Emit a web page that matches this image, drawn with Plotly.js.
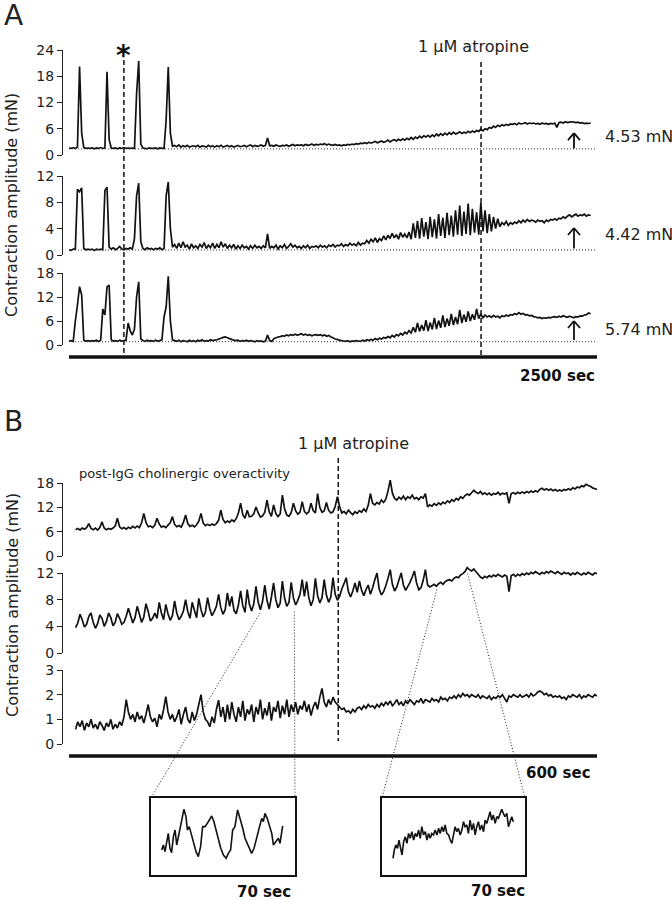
<!DOCTYPE html>
<html><head><meta charset="utf-8">
<script src="https://cdn.plot.ly/plotly-3.0.1.min.js"></script>
<style>html,body{margin:0;padding:0;background:#fff}#plot{width:672px;height:900px}</style>
</head><body><div id="plot"></div>
<script>
// ---------------- DATA ----------------
// Panel A: sampled every 10 s starting at 0 s (time axis 0-2500 s)
const A_t0 = 0, A_dt = 10;
const A1 = [1.6,1.5,1.7,1.5,1.8,20.2,5.0,1.7,1.5,1.6,
1.5,1.6,1.4,1.6,1.5,1.7,1.5,1.6,19.0,3.5,
1.6,1.5,1.6,1.4,1.6,1.5,1.7,1.5,1.6,1.5,
1.6,1.5,14.0,21.5,2.5,1.6,1.5,1.4,1.6,1.5,
1.5,1.6,1.4,1.6,1.5,1.5,8.0,20.1,5.0,2.0,
2.2,1.9,2.3,1.8,2.1,1.9,2.2,1.8,2.0,2.1,
1.9,2.2,1.8,2.1,2.0,1.8,2.2,1.9,2.1,1.8,
2.1,1.9,2.2,1.8,2.0,2.2,1.9,2.1,1.8,2.0,
2.2,1.9,2.0,2.2,1.9,2.1,2.3,1.9,2.2,2.0,
2.1,2.3,2.0,2.2,3.9,2.1,2.2,2.0,2.3,2.1,
2.0,2.2,2.1,2.3,2.0,2.2,2.4,2.1,2.3,2.2,
2.3,2.1,2.4,2.2,2.3,2.5,2.2,2.4,2.3,2.5,
2.4,2.6,2.3,2.5,2.3,2.2,2.4,2.2,2.3,2.1,
2.3,2.2,2.4,2.3,2.5,2.4,2.6,2.5,2.7,2.6,
2.8,2.6,2.9,2.7,2.9,3.1,2.8,3.0,3.2,2.9,
3.1,3.4,3.0,3.3,3.5,3.2,3.6,3.3,3.7,3.4,
3.8,3.5,4.0,3.6,4.1,3.8,4.3,3.9,4.4,4.1,
4.5,4.1,4.6,4.2,4.8,4.4,4.9,4.5,5.0,4.6,
5.1,4.7,5.2,4.8,5.0,5.3,4.9,5.2,5.0,5.4,
5.1,5.5,5.2,5.6,5.4,5.9,5.5,6.0,5.8,6.3,
6.1,6.6,6.3,6.8,6.5,6.9,6.7,7.0,6.8,7.1,
7.0,7.2,6.9,7.3,7.1,7.2,7.4,7.1,7.3,7.2,
7.3,7.1,7.2,7.0,7.3,7.1,7.2,7.0,7.2,7.1,
7.3,6.3,7.4,7.5,7.3,7.6,7.4,7.5,7.6,7.5,
7.4,7.5,7.3,7.4,7.2,7.3,7.2,7.3];
const A2 = [0.8,0.7,0.9,0.9,10.0,9.6,10.2,1.0,0.8,0.9,
0.8,0.9,0.7,0.9,0.8,0.9,0.8,9.8,10.3,1.2,
0.9,1.1,0.8,1.0,1.3,0.9,0.8,1.0,0.9,1.1,
0.9,2.5,9.0,10.9,2.0,1.0,0.8,1.1,0.9,1.0,
0.8,1.0,0.9,1.1,0.8,1.0,9.0,11.1,4.0,1.2,
1.6,1.0,1.8,1.1,2.0,1.2,1.5,0.9,1.7,1.1,
1.4,1.0,1.6,1.2,1.9,1.0,1.5,1.1,1.8,1.0,
1.6,1.1,2.0,1.2,1.7,1.0,1.5,1.1,1.6,0.9,
1.4,1.0,1.5,1.1,1.3,0.9,1.4,1.0,1.5,1.1,
1.3,1.0,1.4,1.1,3.2,1.0,1.3,1.1,1.5,0.9,
1.4,1.1,1.6,1.0,1.3,1.7,1.2,1.5,1.1,1.3,
1.0,1.4,1.1,1.5,1.0,1.3,1.2,1.4,1.1,1.5,
1.2,1.4,1.1,1.5,1.3,1.6,1.2,1.5,1.4,1.7,
1.3,1.6,1.4,1.8,1.5,1.7,1.4,1.9,1.5,1.8,
1.7,2.2,1.8,2.4,2.0,2.6,1.9,2.5,2.2,2.9,
2.3,3.0,2.5,3.3,2.6,3.1,2.4,3.4,2.7,3.2,
2.6,3.5,2.4,4.8,2.6,5.2,2.5,5.6,2.8,5.0,
2.4,5.8,2.7,5.4,2.5,6.2,2.9,5.7,2.6,6.4,
3.0,6.0,2.8,6.8,3.1,7.5,2.9,6.6,3.2,7.8,
3.0,7.0,3.4,6.5,3.1,7.9,3.6,6.8,3.3,6.2,
3.6,5.8,4.0,5.5,4.3,4.9,4.6,5.1,4.5,4.9,
4.7,5.0,4.8,5.2,4.9,5.3,5.0,5.4,5.1,5.3,
5.2,5.0,5.3,5.1,5.2,4.9,5.3,5.1,5.4,5.3,
5.5,5.3,5.6,5.5,5.8,5.6,5.9,6.1,5.8,6.0,
6.2,5.9,6.1,6.0,6.2,5.9,6.1,6.0];
const A3 = [1.0,1.1,0.9,6.0,10.0,14.6,12.5,1.2,1.0,1.1,
0.9,1.1,1.0,1.2,0.9,1.2,9.0,7.5,14.5,15.0,
1.3,1.0,1.1,0.9,1.2,1.0,1.1,1.2,5.5,3.5,
2.5,4.0,12.0,15.8,1.5,1.1,0.9,1.2,1.0,1.1,
0.9,1.2,1.0,1.1,1.3,7.0,9.5,17.2,6.0,1.3,
1.1,0.9,1.2,0.8,1.1,1.0,0.8,1.2,0.9,1.1,
0.8,1.2,1.0,1.3,0.9,1.1,1.0,1.3,1.1,1.2,
1.3,1.5,1.7,1.9,2.0,1.8,1.6,1.4,1.2,1.1,
1.2,0.9,1.1,1.0,1.2,0.9,1.1,1.0,0.8,1.1,
0.9,1.0,0.8,1.0,2.5,1.1,0.9,1.6,1.8,2.0,
2.1,2.3,2.2,2.5,2.3,2.6,2.4,2.7,2.5,2.6,
2.8,2.5,2.7,2.4,2.6,2.3,2.5,2.6,2.4,2.6,
2.3,2.5,2.2,2.4,2.0,1.8,1.5,1.4,1.2,1.1,
1.0,0.9,1.1,0.8,1.0,0.9,1.1,1.0,0.9,1.2,
1.0,1.3,1.1,1.4,1.2,1.6,1.3,1.7,1.5,1.9,
1.7,2.1,1.8,2.4,2.0,2.6,2.3,2.9,2.5,3.2,
2.8,3.6,3.0,4.4,3.2,5.5,3.4,5.0,3.6,6.2,
3.5,5.6,3.9,6.8,4.0,6.1,4.3,7.4,4.5,6.6,
4.8,7.8,5.0,7.0,5.2,8.8,5.5,7.6,5.8,8.4,
6.0,7.7,6.3,9.0,6.6,7.8,6.8,7.5,7.0,7.3,
6.9,7.4,7.0,7.2,6.8,7.3,7.1,7.5,7.2,7.6,
7.5,7.8,7.6,8.1,7.7,7.9,7.5,7.6,7.3,7.4,
7.1,7.0,6.8,6.9,6.6,6.8,6.7,6.9,6.8,7.0,
7.1,6.9,7.2,7.0,7.3,7.1,6.9,7.2,7.0,6.8,
7.1,7.0,7.3,7.2,7.5,7.6,8.0,7.8];

// Panel B: sampled every 2.5 s starting at 7.5 s (time axis 0-600 s)
const B_t0 = 7.5, B_dt = 2.5;
const B1 = [6.5,6.8,6.4,6.9,6.6,7.0,8.0,6.8,6.5,6.9,6.4,7.0,8.4,6.9,6.5,6.8,6.6,6.9,7.4,9.3,
7.2,6.7,7.0,6.6,7.1,6.8,7.3,6.9,7.4,7.0,8.2,10.5,8.3,7.2,7.4,7.0,7.6,9.3,7.9,7.1,
7.4,7.0,7.6,8.2,9.7,7.8,7.2,7.5,7.1,8.3,10.1,8.0,7.3,7.6,7.2,7.7,8.6,10.5,8.1,7.5,
7.8,7.5,7.9,7.6,8.0,8.8,11.3,9.0,8.2,8.6,8.3,8.9,8.5,9.2,10.6,13.0,10.2,9.3,11.3,9.7,
9.8,10.4,12.1,10.6,9.6,9.9,10.8,13.8,10.9,9.8,12.6,10.5,9.7,10.4,15.0,11.6,10.1,9.8,10.7,13.0,
11.2,10.3,10.8,13.4,11.0,10.4,10.9,13.0,11.2,10.6,15.4,12.0,10.8,11.1,13.2,11.3,10.6,10.9,12.2,14.6,
12.2,10.6,11.0,10.4,11.3,10.7,10.2,10.9,10.5,11.2,10.8,11.6,11.0,12.5,15.4,13.0,12.6,13.2,12.8,13.8,
13.2,14.0,16.0,18.7,15.5,14.2,13.8,14.5,14.0,14.8,13.9,14.6,14.2,15.0,14.1,14.4,13.9,14.6,14.3,15.4,
12.1,12.6,12.3,12.9,12.5,13.1,12.7,13.3,12.9,13.6,13.2,13.9,13.5,14.2,13.8,14.6,14.2,14.9,15.3,15.0,
15.6,16.2,15.7,15.4,15.9,15.2,15.6,15.1,15.5,15.0,15.4,15.2,15.7,15.1,15.5,15.3,15.6,13.0,15.4,15.6,
15.3,15.7,15.4,15.8,15.5,15.9,15.6,16.0,15.7,16.1,15.8,16.4,16.7,16.3,16.6,16.2,16.5,16.1,16.4,16.0,
16.3,16.0,16.4,16.2,16.6,16.3,16.8,16.5,17.0,16.8,17.3,17.1,17.7,17.4,17.2,16.8,16.6,16.4];
const B2 = [3.8,4.5,5.8,5.0,3.9,4.3,5.5,6.0,4.6,3.7,4.4,5.7,5.2,4.0,4.7,6.0,5.3,4.1,4.6,5.9,
5.2,4.3,4.6,5.5,6.7,5.6,4.5,5.3,7.0,5.8,4.6,5.4,7.4,6.2,4.8,5.2,6.0,5.2,7.6,6.0,
5.0,7.3,5.9,4.9,5.6,7.8,6.0,5.0,5.5,6.3,8.0,6.2,5.2,7.6,6.4,5.3,8.2,6.5,5.4,6.1,
8.3,6.6,5.6,6.2,7.0,8.8,6.8,5.8,6.5,9.0,7.0,8.5,6.4,5.9,7.2,9.3,7.1,6.1,9.5,7.3,
6.3,7.4,10.0,7.6,6.5,7.8,10.2,7.9,6.6,8.4,10.5,8.0,6.8,7.5,10.8,8.2,7.0,7.6,10.6,8.3,
7.2,7.9,8.8,11.0,8.5,10.7,8.3,7.1,8.0,11.2,8.6,7.5,8.3,11.0,8.7,7.6,8.4,11.3,8.8,7.9,
8.5,9.6,10.4,11.3,9.2,8.4,9.3,10.5,9.1,10.8,9.4,8.6,9.5,10.2,8.8,9.8,11.0,12.0,9.6,8.7,
9.2,10.1,11.2,12.5,10.3,9.3,9.9,11.0,12.0,10.2,9.4,10.0,10.6,11.4,12.3,10.5,9.5,9.8,10.9,12.5,
10.2,9.9,10.1,10.3,10.0,10.4,10.6,10.3,10.7,10.9,11.0,10.8,11.2,11.4,11.3,11.7,11.9,12.2,12.8,12.5,
12.3,12.6,12.2,11.8,11.4,11.2,11.5,11.3,11.6,11.4,11.7,11.5,11.8,11.6,11.4,11.7,11.5,9.2,11.6,11.8,
11.5,11.8,11.6,11.9,11.7,12.0,11.8,12.1,11.9,12.2,12.0,11.8,12.1,11.9,12.2,12.0,12.3,12.1,11.9,12.2,
12.0,11.8,12.1,11.9,12.0,11.7,12.0,11.8,12.1,11.9,11.7,12.0,11.8,12.1,11.9,11.7,12.0,11.9];
const B3 = [0.6,0.9,0.7,0.95,0.55,0.85,0.7,1.0,0.65,0.8,0.6,0.9,0.75,0.55,0.85,0.7,1.0,0.6,0.8,0.65,
0.9,0.75,1.1,1.8,1.3,1.0,1.2,0.9,1.3,1.0,1.15,0.85,1.2,1.6,1.1,0.9,1.05,0.7,1.2,1.0,
1.4,1.92,1.3,1.0,1.2,0.9,1.1,1.4,0.8,1.2,1.5,1.0,0.85,1.3,0.95,1.2,1.6,2.0,1.3,1.0,
0.9,0.7,1.1,0.85,1.4,1.78,1.1,1.5,0.9,1.6,1.0,1.7,1.2,0.9,1.5,1.1,1.75,0.95,1.4,1.2,
1.6,0.9,1.5,1.2,1.8,1.0,1.45,1.15,1.7,0.95,1.5,1.3,1.75,1.05,1.55,1.2,1.8,1.1,1.6,1.3,
1.7,1.2,1.55,1.4,1.75,1.3,1.6,1.15,1.5,1.7,1.4,1.9,2.25,1.7,1.5,1.8,1.6,1.9,1.7,1.6,
1.5,1.4,1.45,1.3,1.35,1.25,1.4,1.3,1.45,1.5,1.4,1.55,1.45,1.6,1.5,1.55,1.45,1.6,1.5,1.65,
1.55,1.7,1.6,1.75,1.55,1.65,1.8,1.6,1.7,1.55,1.75,1.65,1.8,1.7,1.6,1.75,1.7,1.85,1.65,1.8,
1.75,1.7,1.85,1.75,1.8,1.7,1.9,1.8,1.85,1.75,1.9,1.85,1.95,1.85,2.0,1.9,2.05,1.95,2.0,1.9,
2.0,1.95,1.9,2.0,1.85,1.95,1.9,1.85,1.95,1.8,1.9,1.85,1.95,1.9,2.0,1.85,1.7,1.95,1.9,2.0,
1.95,1.9,2.0,1.9,1.95,2.0,1.9,2.05,1.95,2.0,2.1,2.15,2.1,2.0,2.05,1.95,2.0,1.9,1.95,1.9,
1.95,1.85,1.9,1.8,1.95,1.9,2.0,1.95,1.9,2.0,1.85,1.95,1.9,2.0,1.95,1.9,2.0,1.95];

// Insets (70 s windows of the middle B trace)
const inset1T = [5.2,6.0,6.8,7.6,8.4,9.2,10.0,10.9,11.7,12.5,13.3,14.1,14.9,16.0,17.0,17.7,18.6,19.8,20.9,21.9,23.0,24.1,25.1,26.3,27.4,28.4,29.5,30.6,31.6,32.7,33.9,35.2,36.5,37.6,38.7,39.7,40.8,42.1,43.3,44.6,45.7,46.8,47.8,48.9,50.1,51.4,52.7,53.8,54.6,55.4,56.5,57.8,58.7,59.5,60.8,61.9,62.7,64.0];
const inset1V = [6.92,7.51,6.73,7.90,8.87,7.12,6.61,8.48,9.26,7.51,8.48,9.46,10.62,11.68,10.82,9.26,9.65,8.48,7.51,6.73,6.14,7.31,9.65,9.65,10.04,10.43,10.90,10.23,9.26,8.09,7.12,6.34,5.95,6.53,6.92,9.26,9.65,11.60,10.62,9.46,8.29,7.70,7.12,6.53,7.12,8.48,9.65,10.62,10.23,11.21,10.62,9.46,8.87,7.51,7.90,8.29,7.70,9.73];
const inset2T = [5.4,6.0,6.8,7.6,8.3,8.9,9.8,10.6,11.4,12.2,13.0,13.8,14.6,15.5,16.3,17.1,17.9,18.7,19.5,20.3,21.2,22.0,22.8,23.6,24.4,25.2,26.0,26.9,27.7,28.5,29.3,30.1,30.9,31.7,32.6,33.4,34.2,35.0,35.8,36.6,37.4,38.3,39.1,39.9,40.7,41.5,42.3,43.1,44.0,44.8,45.6,46.4,47.2,48.0,48.8,49.7,50.5,51.3,52.1,52.9,53.7,54.5,55.4,56.2,57.0,57.8,58.6,59.4,60.2,61.1,61.9,62.7,63.5,64.3];
const inset2V = [10.08,10.62,10.95,10.73,11.27,10.88,10.30,11.16,11.49,11.06,11.70,11.38,11.81,11.27,11.70,11.49,11.92,11.38,12.14,11.60,11.81,11.27,11.70,11.38,11.70,11.60,11.92,11.60,12.03,11.70,12.14,11.81,12.25,11.70,11.60,11.27,11.06,11.60,12.14,11.81,12.03,11.60,11.92,12.46,12.14,12.25,11.70,12.57,11.92,12.35,11.60,12.14,12.46,11.92,12.25,11.81,12.57,12.35,12.79,13.11,12.57,12.89,12.35,12.79,12.68,13.00,13.26,13.00,12.79,13.00,12.14,12.46,12.79,12.46];

// Annotated values
const A_baselines = [1.4, 0.76, 0.83];
const A_arrowTail = [1.5, 1.0, 1.25];
const A_arrowHead = [5.0, 4.1, 6.0];
const A_arrowTime = 2391;
const A_amplitudeLabels = ['4.53 mN', '4.42 mN', '5.74 mN'];
const starTime = 260, atropineTimeA = 1951, atropineTimeB = 306;
const inset1Window = [217, 256], inset1Top = [6.0, 6.2];
const inset2Window = [418, 453], inset2Top = [9.5, 11.9];
const tickValsA = [[0,6,12,18,24],[0,4,8,12],[0,6,12,18]];
const tickValsB = [[0,6,12,18],[0,4,8,12],[0,1,2,3]];
const scaleA = 2500, scaleB = 600, insetSpan = 70;

// ---------------- LAYOUT ----------------
const W = 672, H = 900, FONT = 'DejaVu Sans', INK = '#111', TXT = '#222';
const X0 = 69, X1 = 597, AXX = 62;
const rows = [
  {top:50, bot:155, ticks:tickValsA[0], data:A1, t0:A_t0, dt:A_dt, x:'x'},
  {top:176, bot:255, ticks:tickValsA[1], data:A2, t0:A_t0, dt:A_dt, x:'x'},
  {top:273, bot:345, ticks:tickValsA[2], data:A3, t0:A_t0, dt:A_dt, x:'x'},
  {top:483, bot:556, ticks:tickValsB[0], data:B1, t0:B_t0, dt:B_dt, x:'x2'},
  {top:573, bot:653, ticks:tickValsB[1], data:B2, t0:B_t0, dt:B_dt, x:'x2'},
  {top:670, bot:744, ticks:tickValsB[2], data:B3, t0:B_t0, dt:B_dt, x:'x2'}
];
const px2x = p => p / W, px2y = p => 1 - p / H;
const traces = [];
const layout = {
  width: W, height: H, margin: {l:0, r:0, t:0, b:0}, showlegend: false,
  paper_bgcolor: '#fff', plot_bgcolor: 'rgba(0,0,0,0)',
  font: {family: FONT, color: TXT},
  xaxis: {domain:[px2x(X0), px2x(X1)], range:[0, scaleA], visible:false, fixedrange:true},
  xaxis2: {domain:[px2x(X0), px2x(X1)], range:[0, scaleB], visible:false, fixedrange:true},
  shapes: [], annotations: []
};
const EXT = 20;
rows.forEach((r, i) => {
  const n = i + 1, m = i + 7;
  const max = r.ticks[r.ticks.length - 1];
  const ppu = (r.bot - r.top) / max;
  r.ppu = ppu; r.max = max;
  const dKey = n === 1 ? 'yaxis' : 'yaxis' + n;
  layout[dKey] = {domain:[px2y(r.bot + EXT), px2y(r.top - EXT)], range:[-EXT/ppu, max + EXT/ppu],
    visible:false, anchor:r.x, fixedrange:true};
  layout['yaxis' + m] = {domain:[px2y(r.bot), px2y(r.top)], range:[0, max], anchor:'free', position:px2x(AXX),
    showline:true, linecolor:TXT, linewidth:1, ticks:'outside', ticklen:5, tickwidth:1, tickcolor:TXT,
    tickvals:r.ticks, showgrid:false, zeroline:false, tickfont:{family:FONT, size:14, color:TXT}, fixedrange:true};
  const t = r.data.map((_, k) => r.t0 + k * r.dt);
  traces.push({x:t, y:r.data, xaxis:r.x, yaxis:n === 1 ? 'y' : 'y' + n, mode:'lines',
    line:{color:INK, width:1.7, simplify:false}, hoverinfo:'skip'});
  traces.push({x:[], y:[], xaxis:r.x, yaxis:'y' + m, mode:'lines', hoverinfo:'skip'});
});
const rowY = (i, v) => rows[i].bot - v * rows[i].ppu;   // px
const aX = t => X0 + t / scaleA * (X1 - X0);
const bX = t => X0 + t / scaleB * (X1 - X0);

// insets
const IN1 = {l:151, r:295}, IN2 = {l:382, r:525}, INT = 798, INB = 875;
const insetAxis = {showline:true, mirror:true, linecolor:INK, linewidth:1.6, ticks:'', showticklabels:false,
  showgrid:false, zeroline:false, fixedrange:true};
layout.xaxis3 = Object.assign({domain:[px2x(IN1.l), px2x(IN1.r)], range:[0, insetSpan], anchor:'y13'}, insetAxis);
layout.yaxis13 = Object.assign({domain:[px2y(INB), px2y(INT)], range:[4, 13], anchor:'x3'}, insetAxis);
layout.xaxis4 = Object.assign({domain:[px2x(IN2.l), px2x(IN2.r)], range:[0, insetSpan], anchor:'y14'}, insetAxis);
layout.yaxis14 = Object.assign({domain:[px2y(INB), px2y(INT)], range:[9, 14], anchor:'x4'}, insetAxis);
traces.push({x:inset1T, y:inset1V, xaxis:'x3', yaxis:'y13', mode:'lines', line:{color:INK, width:1.6}, hoverinfo:'skip'});
traces.push({x:inset2T, y:inset2V, xaxis:'x4', yaxis:'y14', mode:'lines', line:{color:INK, width:1.6}, hoverinfo:'skip'});

// shapes
const S = layout.shapes;
const pline = (x0, y0, x1, y1, line) => S.push({type:'line', xref:'paper', yref:'paper',
  x0:px2x(x0), y0:px2y(y0), x1:px2x(x1), y1:px2y(y1), line});
// time bars
pline(X0, 357, X1, 357, {color:INK, width:3.5});
pline(X0, 756, X1, 756, {color:INK, width:3.5});
// dashed markers
const dashed = {color:INK, width:1.5, dash:'5px,3px'};
pline(aX(starTime), 60, aX(starTime), 355, dashed);
pline(aX(atropineTimeA), 62, aX(atropineTimeA), 355, dashed);
pline(bX(atropineTimeB), 458, bX(atropineTimeB), 741, dashed);
// dotted baselines and arrows in panel A
for (let i = 0; i < 3; i++) {
  pline(X0, rowY(i, A_baselines[i]), X1, rowY(i, A_baselines[i]), {color:'#333', width:1, dash:'1px,2px'});
  const ax = aX(A_arrowTime), yt = rowY(i, A_arrowTail[i]), yh = rowY(i, A_arrowHead[i]);
  const ar = {color:INK, width:1.8};
  pline(ax, yt, ax, yh, ar);
  pline(ax - 6, yh + 7, ax, yh, ar);
  pline(ax + 6, yh + 7, ax, yh, ar);
}
// inset connectors
const dotted = {color:'#222', width:1, dash:'1px,2px'};
pline(bX(inset1Window[0]), rowY(4, inset1Top[0]), IN1.l, INT, dotted);
pline(bX(inset1Window[1]), rowY(4, inset1Top[1]), IN1.r, INT, dotted);
pline(bX(inset2Window[0]), rowY(4, inset2Top[0]), IN2.l, INT, dotted);
pline(bX(inset2Window[1]), rowY(4, inset2Top[1]), IN2.r, INT, dotted);

// annotations
const A = layout.annotations;
const ann = (text, x, y, o) => A.push(Object.assign({text, xref:'paper', yref:'paper', x:px2x(x), y:px2y(y),
  showarrow:false, xanchor:'center', yanchor:'middle', font:{family:FONT, size:16, color:TXT}}, o || {}));
ann('A', 2, 15, {xanchor:'left', font:{family:FONT, size:28, color:TXT}});
ann('B', 2, 421, {xanchor:'left', font:{family:FONT, size:28, color:TXT}});
ann('<b>*</b>', aX(starTime), 55, {font:{family:FONT, size:28, color:INK}});
ann('1 µM atropine', 473, 47);
ann('1 µM atropine', 353, 443);
for (let i = 0; i < 3; i++) ann(A_amplitudeLabels[i], 603, [136.5, 235, 329][i], {xanchor:'left'});
ann('Contraction amplitude (mN)', 12, 205, {textangle:-90});
ann('Contraction amplitude (mN)', 12, 605, {textangle:-90});
ann('post-IgG cholinergic overactivity', 77, 474, {xanchor:'left', font:{family:FONT, size:13, color:TXT}});
ann('<b>2500 sec</b>', 597, 376, {xanchor:'right', font:{family:FONT, size:15, color:INK}});
ann('<b>600 sec</b>', 593, 773, {xanchor:'right', font:{family:FONT, size:15, color:INK}});
ann('<b>70 sec</b>', 293, 892, {xanchor:'right', font:{family:FONT, size:15, color:INK}});
ann('<b>70 sec</b>', 527, 891, {xanchor:'right', font:{family:FONT, size:15, color:INK}});

Plotly.newPlot('plot', traces, layout, {staticPlot:true, displayModeBar:false});
</script>
</body></html>
